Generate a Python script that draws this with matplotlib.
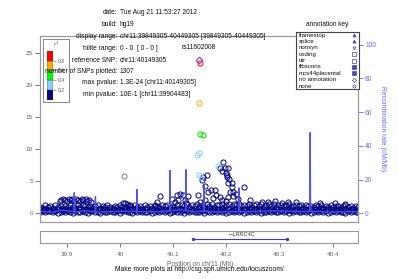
import numpy as np
import matplotlib
matplotlib.use('Agg')
import matplotlib.pyplot as plt

plt.rcParams['font.family'] = ['Liberation Sans', 'DejaVu Sans']

W, H = 399, 279

# ---------------- data ----------------
x_min, x_max = 39.8493, 40.4476
ylim_p = (-1.36, 27.6)
ylim_r = (-5.2, 105.1)

band_pos_kb = [39850, 39855, 39859, 39864, 39869, 39873, 39878, 39883, 39888, 39892,
               39897, 39902, 39906, 39911, 39916, 39920, 39925, 39930, 39934, 39939,
               39944, 39948, 39953, 39958, 39962, 39967, 39972, 39976, 39981, 39986,
               39990, 39995, 40000, 40004, 40009, 40014, 40018, 40023, 40028, 40032,
               40037, 40042, 40046, 40051, 40056, 40060, 40065, 40070, 40074, 40079,
               40084, 40088, 40093, 40098, 40102, 40107, 40112, 40116, 40121, 40126,
               40130, 40135, 40140, 40144, 40149, 40154, 40158, 40163, 40168, 40172,
               40177, 40182, 40186, 40191, 40196, 40200, 40205, 40210, 40214, 40219,
               40224, 40228, 40233, 40238, 40242, 40247, 40252, 40256, 40261, 40266,
               40270, 40275, 40280, 40284, 40289, 40294, 40298, 40303, 40308, 40312,
               40317, 40322, 40326, 40331, 40336, 40340, 40345, 40350, 40354, 40359,
               40364, 40368, 40373, 40378, 40382, 40387, 40392, 40396, 40401, 40406,
               40410, 40415, 40420, 40424, 40429, 40434, 40438, 40443, 40447]
band_lo = [0.21, 0.35, 0.12, 0.28, 0.40, 0.18, 0.30, 0.09, 0.25, 0.37,
           0.15, 0.31, 0.22, 0.08, 0.33, 0.26, 0.14, 0.39, 0.20, 0.11,
           0.29, 0.36, 0.17, 0.24, 0.06, 0.32, 0.19, 0.27, 0.41, 0.13,
           0.23, 0.34, 0.10, 0.28, 0.38, 0.16, 0.25, 0.07, 0.31, 0.21,
           0.35, 0.12, 0.27, 0.18, 0.40, 0.09, 0.24, 0.33, 0.15, 0.29,
           0.20, 0.37, 0.11, 0.26, 0.32, 0.14, 0.22, 0.39, 0.08, 0.30,
           0.19, 0.35, 0.13, 0.27, 0.23, 0.41, 0.10, 0.31, 0.17, 0.25,
           0.36, 0.12, 0.28, 0.21, 0.34, 0.07, 0.24, 0.38, 0.16, 0.30,
           0.20, 0.33, 0.11, 0.26, 0.40, 0.14, 0.29, 0.22, 0.35, 0.09,
           0.27, 0.18, 0.32, 0.13, 0.37, 0.23, 0.15, 0.30, 0.21, 0.39,
           0.10, 0.28, 0.17, 0.34, 0.25, 0.12, 0.31, 0.19, 0.36, 0.08,
           0.26, 0.33, 0.14, 0.29, 0.22, 0.38, 0.11, 0.24, 0.35, 0.16,
           0.30, 0.20, 0.27, 0.09, 0.32, 0.18, 0.37, 0.13, 0.25]
band_mid = [0.62, 0.55, 0.71, 0.58, 0.66, 0.74, 0.52, 0.69, 0.60, 0.57,
            0.73, 0.64, 0.51, 0.68, 0.59, 0.75, 0.63, 0.54, 0.70, 0.61,
            0.56, 0.72, 0.65, 0.53, 0.67, 0.60, 0.74, 0.58, 0.63, 0.69,
            0.55, 0.71, 0.62, 0.57, 0.66, 0.52, 0.73, 0.64, 0.59, 0.68,
            0.61, 0.54, 0.70, 0.65, 0.57, 0.72, 0.60, 0.53, 0.67, 0.63,
            0.74, 0.58, 0.62, 0.69, 0.55, 0.71, 0.64, 0.59, 0.66, 0.52,
            0.68, 0.61, 0.73, 0.56, 0.65, 0.70, 0.57, 0.63, 0.75, 0.60,
            0.54, 0.67, 0.62, 0.72, 0.58, 0.64, 0.69, 0.53, 0.66, 0.61,
            0.71, 0.57, 0.63, 0.74, 0.59, 0.68, 0.55, 0.65, 0.70, 0.62,
            0.56, 0.73, 0.60, 0.67, 0.52, 0.64, 0.71, 0.58, 0.66, 0.61,
            0.69, 0.54, 0.63, 0.72, 0.57, 0.65, 0.60, 0.74, 0.55, 0.68,
            0.62, 0.70, 0.56, 0.64, 0.59, 0.73, 0.61, 0.67, 0.53, 0.66,
            0.71, 0.58, 0.63, 0.69, 0.55, 0.72, 0.60, 0.65, 0.57]
band_hi = [1.05, 0.82, 1.21, 0.95, 1.12, 0.78, 1.25, 0.98, 1.15, 0.88,
           1.18, 0.92, 1.30, 1.05, 0.85, 1.22, 0.97, 1.28, 1.10, 0.90,
           1.20, 0.86, 1.08, 1.25, 0.80, 1.14, 0.95, 1.22, 1.02, 0.84,
           1.16, 0.93, 1.27, 1.00, 0.87, 1.19, 1.06, 0.81, 1.24, 0.96,
           1.11, 0.85, 1.26, 0.99, 1.17, 0.83, 1.21, 1.04, 0.90, 1.28,
           1.08, 1.33, 0.94, 1.20, 1.02, 1.36, 0.88, 1.25, 1.12, 1.40,
           0.97, 1.30, 1.15, 1.42, 1.05, 1.28, 0.92, 1.38, 1.18, 1.45,
           1.02, 1.35, 1.22, 1.50, 0.96, 1.31, 1.44, 1.10, 1.38, 1.25,
           1.47, 1.08, 1.33, 1.20, 1.42, 0.98, 1.29, 1.37, 1.12, 1.45,
           1.05, 1.32, 1.40, 1.18, 1.48, 0.95, 1.26, 1.35, 1.10, 1.22,
           1.38, 0.97, 1.15, 1.30, 1.06, 1.24, 0.90, 1.33, 1.12, 1.19,
           0.94, 1.21, 1.08, 1.27, 0.86, 1.16, 1.02, 1.25, 0.92, 1.13,
           1.20, 0.88, 1.09, 1.23, 0.95, 1.14, 0.84, 1.18, 1.00]

plateau_pos_kb = [39886, 39889, 39893, 39896, 39900, 39903, 39907, 39910, 39914,
                  39917, 39921, 39924, 39928, 39931, 39935, 39938, 39942, 39945]
plateau_val = [1.85, 2.05, 2.20, 2.12, 1.95, 2.25, 2.08, 2.18, 1.98,
               2.22, 2.10, 1.90, 2.15, 2.02, 2.24, 1.92, 2.06, 1.80]

navy_pos_kb = [40004.7, 40009.1, 40013.4, 40018.5, 40065.5, 40068.7, 40074.9, 40097.4, 40103.1, 40106.2,
               40109.3, 40112.5, 40118.7, 40121.8, 40123.7, 40128.1, 40146.9, 40150.0, 40153.3, 40156.3,
               40159.4, 40159.4, 40162.6, 40165.6, 40171.8, 40174.9, 40178.0, 40181.2, 40187.7, 40187.7,
               40190.8, 40192.1, 40192.7, 40197.1, 40198.9, 40198.9, 40200.2, 40201.3, 40203.2, 40203.2,
               40203.2, 40205.1, 40207.7, 40209.6, 40209.6, 40212.6, 40212.6, 40217.8, 40221.5, 40233.3,
               40244.0, 40266.6, 40277.9, 40291.0, 40304.2, 40315.5, 40330.5, 40375.6, 40403.8, 40422.6]
navy_val = [1.56, 1.65, 1.45, 1.30, 1.14, 1.80, 2.70, 2.20, 1.80, 2.85,
            2.07, 3.00, 2.85, 2.07, 1.60, 2.70, 2.85, 1.80, 5.20, 5.70,
            2.07, 4.25, 6.00, 3.36, 3.63, 2.34, 3.63, 2.85, 2.59, 7.00,
            2.07, 6.60, 7.94, 7.10, 1.92, 6.32, 5.97, 5.70, 2.59, 4.67,
            7.00, 5.30, 3.36, 4.14, 4.67, 2.70, 3.36, 3.00, 2.20, 4.14,
            2.00, 1.75, 1.80, 1.90, 1.60, 1.80, 1.70, 1.60, 1.60, 1.45]

lightblue_pos_kb = [40143.9, 40147.6, 40184.5, 40148.7, 40151.3]
lightblue_val = [9.08, 9.35, 7.37, 5.97, 5.70]
green_pos_kb = [40150.0, 40155.1]
green_val = [12.35, 12.15]
orange_pos_kb = [40148.7]
orange_val = [17.2]
red_pos_kb = [40149.5]
red_val = [23.4]
grey_pos_kb = [40007.2]
grey_val = [5.81]
ref_pos_kb = [40149.305]
ref_val = [23.886]
ref_name = 'rs11602008'

rec_pos_kb = [39849.3, 39870, 39890, 39912.5, 39913.8, 39915.1, 39935, 39952.5, 39953.6, 39954.7,
              39990, 40031.0, 40031.6, 40032.2, 40060, 40093.1, 40093.7, 40094.3, 40110, 40123.1,
              40123.7, 40124.3, 40140, 40156.9, 40157.5, 40158.1, 40190, 40223.3, 40223.9, 40224.5,
              40290, 40357.1, 40357.7, 40358.3, 40400, 40447.6]
rec_rate = [1.2, 0.6, 1.8, 1.0, 12.2, 0.9, 1.5, 0.8, 9.8, 0.7,
            1.1, 1.3, 14.0, 1.0, 0.9, 1.2, 25.3, 1.4, 2.0, 1.6,
            25.8, 1.5, 1.0, 1.3, 17.0, 1.2, 0.8, 1.1, 15.0, 0.9,
            1.4, 1.0, 47.8, 1.2, 0.7, 1.1]

gene_name = 'LRRC4C'
gene_start_kb, gene_end_kb = 40136.3, 40314.1

xticks = [39.9, 40.0, 40.1, 40.2, 40.3, 40.4]
xtick_labels = ['39.9', '40', '40.1', '40.2', '40.3', '40.4']
yticks = [0, 5, 10, 15, 20, 25]
rticks = [0, 20, 40, 60, 80, 100]

legend_bounds = [0.0, 0.2, 0.4, 0.6, 0.8, 1.0]
legend_colors = ['#000080', '#87CEFA', '#00FF00', '#FFA500', '#FF0000']
legend_ticks = [0.2, 0.4, 0.6, 0.8]

info_labels = ['date:', 'build:', 'display range:', 'hilite range:', 'reference SNP:',
               'number of SNPs plotted:', 'max pvalue:', 'min pvalue:']
info_values = ['Tue Aug 21 11:53:27 2012', 'hg19',
               'chr11:39849305-40449305 [39849305-40449305]', '0 - 0  [ 0 - 0 ]',
               'chr11:40149305', '1307', '1.3E-24 [chr11:40149305]', '10E-1 [chr11:39904483]']

annot_names = ['framestop', 'splice', 'nonsyn', 'coding', 'utr', 'tfbscons',
               'mcs44placental', 'no annotation', 'none']
annot_markers = ['^', '^', 'v', 's', 's', 's', 's', 'D', 'o']
annot_filled = [True, True, False, False, False, True, True, False, False]

# ---------------- figure ----------------
def fx(x):
    return x / W

def fy(y):
    return 1 - y / H

GREY = '#9a9a9a'
TICKC = '#666666'
RECC = '#4b4bf0'
fig = plt.figure(figsize=(W / 100, H / 100), dpi=100)

ax = fig.add_axes([fx(40), fy(222), 318 / W, 186 / H])
ax.set_xlim(x_min, x_max)
ax.set_ylim(*ylim_p)
for s in ax.spines.values():
    s.set_color(GREY)
    s.set_linewidth(0.8)
ax.set_xticks([])
ax.set_yticks(yticks)
ax.tick_params(axis='y', labelsize=4.6, colors=TICKC, length=3.6, width=0.6, pad=1.5)

mk = dict(linestyle='none', marker='o', mfc='none', ms=3.7, mew=0.7)
kb = lambda v: np.asarray(v) / 1000.0
ax.plot(kb(band_pos_kb), band_lo, mec='#000080', **mk)
ax.plot(kb(band_pos_kb), band_mid, mec='#000080', **mk)
ax.plot(kb(band_pos_kb), band_hi, mec='#000080', **mk)
ax.plot(kb(plateau_pos_kb), plateau_val, mec='#000080', **mk)
ax.plot(kb(navy_pos_kb), navy_val, mec='#000080', **mk)
ax.plot(kb(grey_pos_kb), grey_val, mec='#7f7f7f', **mk)
ax.plot(kb(lightblue_pos_kb), lightblue_val, mec='#87CEFA', **mk)
ax.plot(kb(green_pos_kb), green_val, mec='#00DD00', **mk)
ax.plot(kb(orange_pos_kb), orange_val, mec='#FFA500', **mk)
ax.plot(kb(red_pos_kb), red_val, mec='#FF0000', **mk)
ax.plot(kb(ref_pos_kb), ref_val, linestyle='none', marker='D', mfc='none', mec='#9632B8', ms=3.4, mew=0.8)

ax2 = ax.twinx()
ax2.set_ylim(*ylim_r)
ax2.set_xlim(x_min, x_max)
ax2.plot(kb(rec_pos_kb), rec_rate, color=RECC, lw=1.0, alpha=0.95)
ax2.set_yticks(rticks)
ax2.tick_params(axis='y', labelsize=4.8, colors='#6b6bef', length=3.6, width=0.6, pad=1.5)
for s in ax2.spines.values():
    s.set_color(GREY)
    s.set_linewidth(0.8)
ax2.set_xticks([])

fig.text(fx(382.7), fy(129), 'Recombination rate (cM/Mb)', rotation=270, ha='center', va='center',
         fontsize=4.85, color='#6b6bef')

# gene panel
gax = fig.add_axes([fx(40), fy(243), 318 / W, 12 / H])
gax.set_xlim(x_min, x_max)
gax.set_ylim(0, 1)
for s in gax.spines.values():
    s.set_color(GREY)
    s.set_linewidth(0.8)
gax.set_yticks([])
gax.plot(kb([gene_start_kb, gene_end_kb]), [0.31, 0.31], color='#3c3ca8', lw=0.8,
         marker='o', ms=1.4)
gax.text(kb([(gene_start_kb + gene_end_kb) / 2])[0] + 0.0035, 0.72, '\u2190' + gene_name,
         ha='center', va='center', fontsize=4.0, style='italic', color='#333333')
gax.set_xticks(xticks)
gax.set_xticklabels(xtick_labels)
gax.tick_params(axis='x', labelsize=4.6, colors=TICKC, length=3.0, width=0.6, pad=3.2)

fig.text(fx(200), fy(264), 'Position on chr11 (Mb)', ha='center', va='center', fontsize=4.75, color='#666666')
fig.text(fx(199.2), fy(269.5), 'Make more plots at http://csg.sph.umich.edu/locuszoom/', ha='center',
         va='center', fontsize=4.85, color='#111111')

# r2 legend
lfr = fig.add_axes([fx(42.7), fy(102), 26.3 / W, 62.7 / H])
lfr.set_facecolor('white')
lfr.set_xticks([]); lfr.set_yticks([])
for s in lfr.spines.values():
    s.set_color('#888888')
    s.set_linewidth(0.7)
lbar = fig.add_axes([fx(47), fy(100), 6.3 / W, 49.3 / H])
for b0, b1, c in zip(legend_bounds[:-1], legend_bounds[1:], legend_colors):
    lbar.bar(0, b1 - b0, bottom=b0, width=1, color=c, edgecolor='#444444', linewidth=0.3)
lbar.set_xlim(-0.5, 0.5)
lbar.set_ylim(0, 1)
lbar.set_xticks([])
lbar.yaxis.tick_right()
lbar.set_yticks(legend_ticks)
lbar.set_yticklabels([f'{t:.1f}' for t in legend_ticks])
lbar.tick_params(axis='y', labelsize=3.6, colors='#555555', length=2.0, width=0.4, pad=1.0)
for s in lbar.spines.values():
    s.set_visible(False)
fig.text(fx(56.5), fy(44), r'$r^2$', ha='center', va='center', fontsize=4.0, color='#555555')

# info block
info_y = [12.7, 24.3, 36.0, 48.3, 60.0, 71.5, 83.0, 95.0]
for lab, val, yy in zip(info_labels, info_values, info_y):
    fig.text(fx(117.5), fy(yy), lab, ha='right', va='center', fontsize=4.75, color='#111111')
    fig.text(fx(120), fy(yy), val, ha='left', va='center', fontsize=4.75, color='#111111')
fig.text(fx(199), fy(47.3), ref_name, ha='center', va='center', fontsize=4.75, color='#111111')

# annotation key
fig.text(fx(327), fy(24.3), 'annotation key', ha='center', va='center', fontsize=4.7, color='#111111')
akx = fig.add_axes([fx(295.7), fy(89.3), 63 / W, 57.6 / H])
akx.set_facecolor('white')
akx.set_xticks([]); akx.set_yticks([])
akx.set_xlim(0, 1); akx.set_ylim(0, 1)
for s in akx.spines.values():
    s.set_color('#444444')
    s.set_linewidth(0.8)
ann_y = [35.0, 41.4, 47.8, 54.2, 60.6, 67.0, 73.4, 79.8, 86.2]
for name, m, filled, yy in zip(annot_names, annot_markers, annot_filled, ann_y):
    fig.text(fx(299), fy(yy), name, ha='left', va='center', fontsize=4.4, color='#111111')
    yy_ax = (89.3 - yy) / 57.6
    akx.plot([0.92], [yy_ax], marker=m, linestyle='none', ms=2.2, mew=0.5,
             mec='#4646b4', mfc='#4646b4' if filled else 'none', clip_on=False)

fig.savefig('out.png', dpi=100)
